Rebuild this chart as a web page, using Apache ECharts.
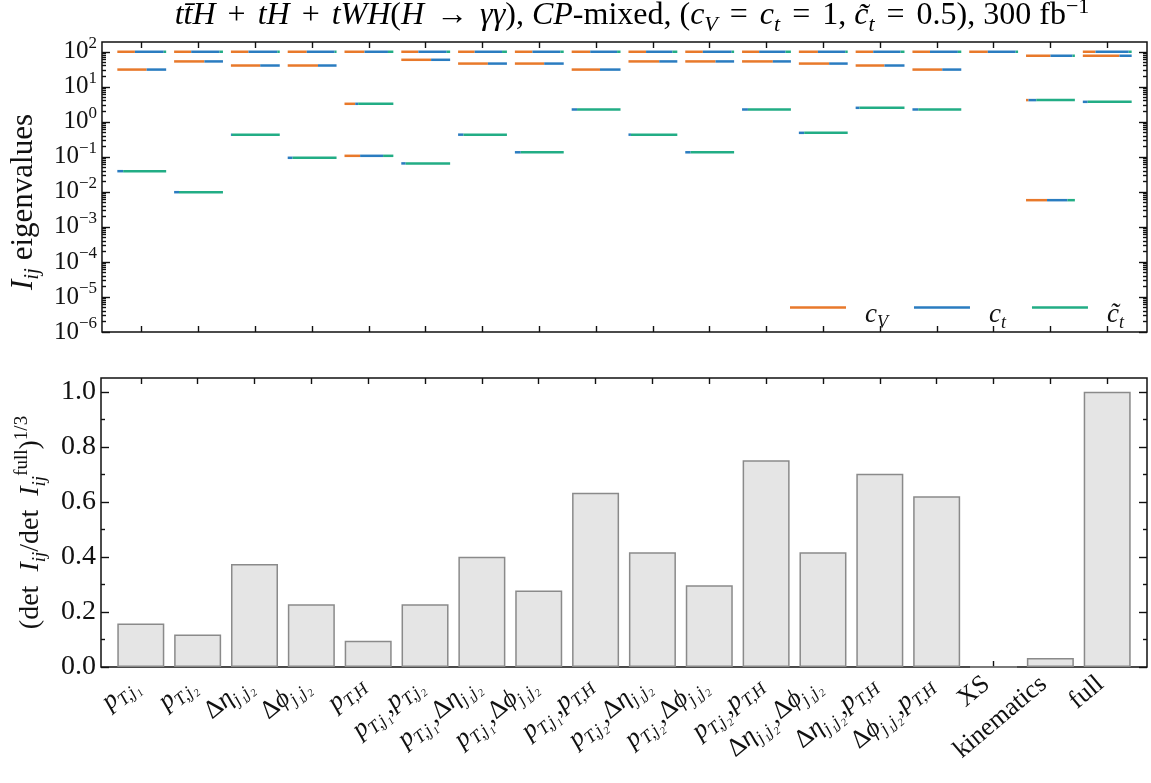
<!DOCTYPE html>
<html>
<head>
<meta charset="utf-8">
<script src="https://cdn.jsdelivr.net/npm/echarts@6/dist/echarts.min.js"></script>
<style>
  html, body { margin: 0; padding: 0; background: #fff; }
  #chart { width: 1151px; height: 783px; }
</style>
</head>
<body>
<div id="chart"></div>
<script>
// category labels (rich text: i = italic, r = roman, s = subscript)
const categories = [
  '{i|p}{s|T,j₁}',
  '{i|p}{s|T,j₂}',
  '{r|Δ}{i|η}{s|j₁j₂}',
  '{r|Δ}{i|ϕ}{s|j₁j₂}',
  '{i|p}{s|T,H}',
  '{i|p}{s|T,j₁}{r|,}{i|p}{s|T,j₂}',
  '{i|p}{s|T,j₁}{r|,}{r|Δ}{i|η}{s|j₁j₂}',
  '{i|p}{s|T,j₁}{r|,}{r|Δ}{i|ϕ}{s|j₁j₂}',
  '{i|p}{s|T,j₁}{r|,}{i|p}{s|T,H}',
  '{i|p}{s|T,j₂}{r|,}{r|Δ}{i|η}{s|j₁j₂}',
  '{i|p}{s|T,j₂}{r|,}{r|Δ}{i|ϕ}{s|j₁j₂}',
  '{i|p}{s|T,j₂}{r|,}{i|p}{s|T,H}',
  '{r|Δ}{i|η}{s|j₁j₂}{r|,}{r|Δ}{i|ϕ}{s|j₁j₂}',
  '{r|Δ}{i|η}{s|j₁j₂}{r|,}{i|p}{s|T,H}',
  '{r|Δ}{i|ϕ}{s|j₁j₂}{r|,}{i|p}{s|T,H}',
  '{r|XS}',
  '{r|kinematics}',
  '{r|full}'
];

// eigenvalues of I_ij per category (largest, middle, smallest)
const eigTop = [100, 100, 100, 100, 100, 100, 100, 100, 100, 100, 100, 100, 100, 100, 100, 100, 77, 100];
const eigMid = [31, 53, 40.5, 40.5, 3.27, 59, 46, 46, 31, 53, 53, 53, 46, 40.5, 31, null, 4.17, 77];
const eigLow = [0.039, 0.0098, 0.43, 0.094, 0.107, 0.065, 0.43, 0.135, 2.25, 0.43, 0.135, 2.25, 0.485, 2.51, 2.25, null, 0.0058, 3.72];

// eigenvector content [c_V, c_t, c~_t] of each eigenvalue
const mixTop = [
  [0.36, 0.59, 0.05], [0.35, 0.58, 0.07], [0.36, 0.59, 0.05], [0.39, 0.57, 0.04],
  [0.41, 0.48, 0.11], [0.35, 0.58, 0.07], [0.34, 0.56, 0.10], [0.36, 0.57, 0.07],
  [0.38, 0.55, 0.07], [0.36, 0.54, 0.10], [0.36, 0.59, 0.05], [0.35, 0.54, 0.11],
  [0.39, 0.56, 0.05], [0.36, 0.56, 0.08], [0.36, 0.57, 0.07], [0.38, 0.57, 0.05],
  [0.50, 0.45, 0.05], [0.26, 0.68, 0.06]
];
const mixMid = [
  [0.60, 0.40, 0], [0.62, 0.38, 0], [0.60, 0.40, 0], [0.62, 0.38, 0],
  [0.22, 0.06, 0.72], [0.61, 0.39, 0], [0.61, 0.39, 0], [0.60, 0.40, 0],
  [0.58, 0.42, 0], [0.63, 0.37, 0], [0.62, 0.38, 0], [0.63, 0.37, 0],
  [0.62, 0.38, 0], [0.59, 0.41, 0], [0.61, 0.39, 0], null,
  [0.05, 0.16, 0.79], [0.75, 0.25, 0]
];
const mixLow = [
  [0, 0.12, 0.88], [0, 0.10, 0.90], [0, 0.02, 0.98], [0, 0.10, 0.90],
  [0.32, 0.47, 0.21], [0, 0.09, 0.91], [0, 0.11, 0.89], [0, 0.12, 0.88],
  [0, 0.11, 0.89], [0, 0.05, 0.95], [0, 0.11, 0.89], [0, 0.12, 0.88],
  [0, 0.11, 0.89], [0, 0.08, 0.92], [0, 0.12, 0.88], null,
  [0.43, 0.42, 0.15], [0, 0.10, 0.90]
];

// (det I_ij / det I_ij^full)^(1/3)
const detRatio = [0.158, 0.118, 0.374, 0.228, 0.095, 0.228, 0.401, 0.278, 0.633, 0.417, 0.297, 0.751, 0.417, 0.702, 0.62, 0, 0.033, 1.0];

// tick values
const decades = [-6, -5, -4, -3, -2, -1, 0, 1, 2];
const ratioTicks = [0, 0.2, 0.4, 0.6, 0.8, 1.0];
const ratioMinorTicks = [0.1, 0.3, 0.5, 0.7, 0.9];

const params = ['cV', 'ct', 'ctt'];
const paramColors = ['#e8792b', '#2a7cc0', '#22ad85'];
const legendText = { cV: '{i|c}{s|V}', ct: '{i|c}{s|t}', ctt: '{i|c̃}{s|t}' };

const serif = 'Liberation Serif';
const segWidth = 0.86;
const yMaxTop = 190;
const labelShift = -0.12; // rotated labels sit a little left of their tick

const catTicks = categories.map((_, i) => i);
const labelTicks = catTicks.map((i) => i + labelShift);
const decadeTicks = decades.map((d) => Math.pow(10, d));
const minorLogTicks = [];
decades.forEach((d) => {
  for (let k = 2; k <= 9; k++) {
    const v = k * Math.pow(10, d);
    if (v < yMaxTop) minorLogTicks.push(v);
  }
});

// rich text styles
const rich = (size, opPad) => ({
  r: { fontFamily: serif, fontSize: size, lineHeight: size + 8, color: '#111' },
  i: { fontFamily: serif, fontStyle: 'italic', fontSize: size, lineHeight: size + 8, color: '#111' },
  o: { fontFamily: serif, fontSize: size, lineHeight: size + 8, color: '#111', padding: [0, opPad || 6, 0, opPad || 6] },
  s: { fontFamily: serif, fontStyle: 'italic', fontSize: Math.round(size * 0.68), verticalAlign: 'bottom', color: '#111' },
  p: { fontFamily: serif, fontSize: Math.round(size * 0.68), verticalAlign: 'top', color: '#111' }
});

// segment pieces for every parameter: [cat, eigenvalue, start share, end share]
const levels = [[eigTop, mixTop], [eigMid, mixMid], [eigLow, mixLow]];
const pieceData = params.map((_, p) => {
  const rows = [];
  levels.forEach(([vals, mix]) => {
    vals.forEach((v, i) => {
      if (v == null || !mix[i]) return;
      let start = 0;
      for (let q = 0; q < p; q++) start += mix[i][q];
      rows.push([i, v, start, start + mix[i][p]]);
    });
  });
  return rows;
});

function renderPiece(params, api) {
  const c = api.coord([api.value(0), api.value(1)]);
  const w = api.size([segWidth, 0], [0, 1])[0];
  const a = api.value(2);
  const b = api.value(3);
  if (b - a < 0.005) return null;
  const x0 = c[0] - w / 2;
  return {
    type: 'line',
    shape: { x1: x0 + a * w, y1: c[1], x2: x0 + b * w, y2: c[1] },
    style: { stroke: api.visual('color'), lineWidth: 2.5 }
  };
}

const tickLine = { color: '#111', width: 1.4 };

function xFrame(grid, pos, withLabels) {
  return {
    gridIndex: grid, type: 'value', position: pos, min: -0.7, max: 17.7,
    axisLine: { show: false, onZero: false }, splitLine: { show: false },
    axisTick: { show: true, inside: true, length: 6, customValues: catTicks, lineStyle: tickLine },
    axisLabel: withLabels ? {
      show: true, customValues: labelTicks, rotate: 40, margin: 14,
      formatter: (v) => categories[Math.round(v)], rich: rich(26)
    } : { show: false }
  };
}

function yFrame(grid, pos, type, min, max, ticks, len, labels) {
  const ax = {
    gridIndex: grid, type: type, position: pos, min: min, max: max,
    axisLine: { show: false, onZero: false }, splitLine: { show: false },
    axisTick: { show: true, inside: true, length: len, customValues: ticks, lineStyle: tickLine },
    axisLabel: { show: false }
  };
  if (labels) ax.axisLabel = Object.assign({ show: true, customValues: ticks, margin: 5 }, labels);
  return ax;
}

const chart = echarts.init(document.getElementById('chart'), null, { renderer: 'canvas' });

const topYLabels = {
  formatter: (v) => '{r|10}{p|' + String(Math.round(Math.log10(v))).replace('-', '−') + '}',
  rich: rich(25)
};
const bottomYLabels = {
  formatter: (v) => '{r|' + v.toFixed(1) + '}',
  rich: rich(28)
};

const yTopMain = yFrame(0, 'left', 'log', 1e-6, yMaxTop, decadeTicks, 8, topYLabels);
yTopMain.name = '{i|I}{s|ij}{r| eigenvalues}';
yTopMain.nameLocation = 'middle';
yTopMain.nameRotate = 90;
yTopMain.nameGap = 56;
yTopMain.nameTextStyle = { rich: rich(31), padding: [0, 30, 0, 0] };

const yBotMain = yFrame(1, 'left', 'value', 0, 1.05, ratioTicks, 8, bottomYLabels);
yBotMain.name = '{r|(det  }{i|I}{s|ij}{r|/det  }{i|I}{s|ij}{p|full}{r|)}{p|1/3}';
yBotMain.nameLocation = 'middle';
yBotMain.nameRotate = 90;
yBotMain.nameGap = 52;
yBotMain.nameTextStyle = { rich: rich(28) };

chart.setOption({
  animation: false,
  backgroundColor: '#fff',
  graphic: [{
    type: 'text', x: 632, y: -4,
    style: {
      text: '{i|tt̄H}{o|+}{i|tH}{o|+}{i|tWH}{r|(}{i|H}{o|→}{i|γγ}{r|), }{i|CP}{r|-mixed, (}{i|c}{s|V}{o|=}{i|c}{s|t}{o|=}{r|1, }{i|c̃}{s|t}{o|=}{r|0.5), 300 fb}{p|−1}',
      align: 'center', verticalAlign: 'top',
      rich: rich(32, 12)
    }
  }],
  legend: {
    data: params, left: 790, top: 301, icon: 'rect', padding: 0,
    itemWidth: 56, itemHeight: 2.5, itemGap: 26,
    formatter: (n) => legendText[n],
    textStyle: { padding: [14, 0, 0, 14], width: 40, rich: rich(27) }
  },
  grid: [
    { left: 101, right: 4, top: 42, height: 290, show: true, borderColor: '#111', borderWidth: 1.5 },
    { left: 101, right: 4, top: 378, height: 289, show: true, borderColor: '#111', borderWidth: 1.5 }
  ],
  xAxis: [
    xFrame(0, 'bottom', false),
    xFrame(0, 'top', false),
    xFrame(1, 'bottom', true),
    xFrame(1, 'top', false)
  ],
  yAxis: [
    yTopMain,
    yFrame(0, 'left', 'log', 1e-6, yMaxTop, minorLogTicks, 4),
    yFrame(0, 'right', 'log', 1e-6, yMaxTop, decadeTicks, 8),
    yFrame(0, 'right', 'log', 1e-6, yMaxTop, minorLogTicks, 4),
    yBotMain,
    yFrame(1, 'left', 'value', 0, 1.05, ratioMinorTicks, 4),
    yFrame(1, 'right', 'value', 0, 1.05, ratioTicks, 8),
    yFrame(1, 'right', 'value', 0, 1.05, ratioMinorTicks, 4)
  ],
  series: params.map((p, k) => ({
    name: p,
    type: 'custom',
    xAxisIndex: 0,
    yAxisIndex: 0,
    clip: true,
    itemStyle: { color: paramColors[k] },
    renderItem: renderPiece,
    data: pieceData[k]
  })).concat([{
    name: 'ratio',
    type: 'bar',
    xAxisIndex: 2,
    yAxisIndex: 4,
    barWidth: 47,
    itemStyle: { color: '#e5e5e5', borderColor: '#8a8a8a', borderWidth: 1.5 },
    data: detRatio.map((v, i) => [i, v])
  }])
});

window.addEventListener('resize', () => chart.resize());
</script>
</body>
</html>
